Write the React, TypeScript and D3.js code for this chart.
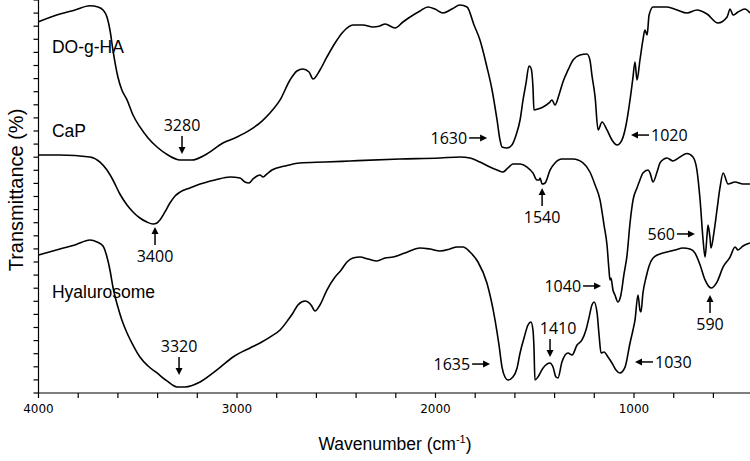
import React, { useEffect, useRef } from 'react';
import * as d3 from 'd3';

const width = 750;
const height = 461;

// DO-g-HA spectrum (wavenumber, transmittance offset)
const doWn = [4000, 3892, 3816, 3741, 3700, 3675, 3655, 3640, 3625, 3600, 3580, 3554, 3524, 3489, 3448, 3403, 3348, 3287, 3227, 3161, 3071, 3000, 2934, 2874, 2834, 2783, 2733, 2698, 2668, 2637, 2617, 2582, 2547, 2506, 2466, 2416, 2365, 2315, 2280, 2254, 2204, 2164, 2128, 2078, 2038, 2003, 1962, 1917, 1877, 1841, 1806, 1776, 1741, 1715, 1690, 1675, 1665, 1640, 1615, 1594, 1574, 1559, 1544, 1529, 1519, 1509, 1504, 1484, 1458, 1428, 1413, 1398, 1378, 1358, 1332, 1307, 1272, 1237, 1222, 1212, 1196, 1181, 1161, 1136, 1111, 1086, 1061, 1040, 1020, 1005, 995, 985, 970, 955, 945, 934, 924, 904, 834, 783, 733, 683, 632, 577, 531, 516, 501, 476, 441, 416];
const doT = [28.34, 28.93, 29.24, 29.56, 29.47, 29.24, 28.7, 27.71, 26.18, 24.12, 23.13, 22.37, 21.22, 20.31, 19.47, 18.78, 18.17, 17.79, 17.79, 18.17, 19.08, 19.54, 20.08, 20.76, 21.37, 22.37, 23.89, 24.58, 24.73, 24.5, 23.97, 24.66, 25.65, 26.72, 27.56, 28.09, 28.09, 27.94, 28.02, 28.17, 27.86, 28.32, 28.7, 29.16, 29.47, 29.31, 29.01, 29.31, 29.62, 29.47, 28.09, 26.95, 24.89, 23.13, 20.84, 19.31, 18.78, 18.7, 18.93, 19.69, 20.84, 22.37, 23.66, 24.96, 24.81, 23.36, 21.6, 21.68, 21.83, 22.14, 22.37, 21.98, 22.75, 23.74, 24.66, 25.42, 25.8, 25.88, 25.42, 24.27, 22.6, 20.08, 20.69, 20.08, 19.31, 18.93, 19.31, 20.46, 22.37, 24.12, 25.27, 23.89, 25.42, 26.95, 27.71, 27.33, 28.85, 29.47, 29.47, 29.24, 29.01, 29.24, 28.93, 28.24, 28.7, 29.31, 28.85, 29.08, 29.31, 29.01];

// CaP spectrum
const capWn = [4000, 3892, 3741, 3690, 3655, 3625, 3590, 3554, 3524, 3489, 3454, 3423, 3403, 3388, 3363, 3338, 3312, 3287, 3237, 3186, 3111, 3035, 2985, 2960, 2940, 2919, 2899, 2884, 2869, 2849, 2824, 2758, 2683, 2557, 2431, 2179, 1977, 1877, 1826, 1776, 1726, 1690, 1660, 1635, 1610, 1574, 1539, 1509, 1489, 1478, 1473, 1463, 1448, 1423, 1398, 1363, 1307, 1257, 1222, 1196, 1171, 1151, 1136, 1126, 1121, 1116, 1106, 1096, 1081, 1066, 1051, 1035, 1020, 1005, 985, 970, 955, 929, 919, 904, 884, 869, 849, 834, 803, 768, 733, 703, 683, 667, 652, 642, 632, 627, 617, 612, 597, 582, 567, 551, 526, 491, 451, 416];
const capT = [18.17, 18.17, 18.02, 17.63, 17.02, 16.26, 15.19, 14.35, 13.82, 13.36, 13.05, 12.9, 12.98, 13.21, 13.82, 14.5, 15.04, 15.34, 15.65, 15.95, 16.26, 16.49, 16.41, 16.11, 16.03, 16.34, 16.56, 16.64, 16.49, 16.72, 17.02, 17.33, 17.56, 17.63, 17.71, 17.86, 17.94, 18.02, 17.94, 17.63, 17.25, 17.02, 16.87, 17.18, 17.48, 17.48, 17.25, 16.79, 16.26, 16.26, 16.41, 15.95, 16.03, 17.02, 17.56, 17.86, 17.86, 17.56, 16.87, 15.88, 14.73, 12.82, 11.3, 9.39, 8.63, 8.78, 7.86, 7.48, 6.95, 7.48, 9.01, 10.53, 12.98, 14.73, 15.65, 16.26, 16.79, 17.02, 16.79, 16.11, 16.87, 17.56, 17.86, 17.94, 17.71, 18.02, 18.28, 18.02, 17.02, 14.73, 11.68, 10.38, 12.06, 12.82, 11.83, 11.07, 12.29, 13.97, 15.65, 16.79, 15.95, 16.11, 15.95, 15.95];

// Hyalurosome spectrum
const hyaWn = [4000, 3892, 3816, 3741, 3705, 3675, 3655, 3640, 3625, 3600, 3580, 3554, 3524, 3489, 3448, 3403, 3353, 3302, 3262, 3186, 3101, 3020, 2934, 2884, 2834, 2783, 2743, 2718, 2693, 2657, 2627, 2607, 2582, 2547, 2506, 2475, 2446, 2416, 2380, 2340, 2295, 2254, 2214, 2154, 2078, 2028, 1977, 1927, 1892, 1861, 1826, 1786, 1741, 1700, 1680, 1665, 1650, 1635, 1610, 1589, 1574, 1554, 1534, 1519, 1509, 1504, 1499, 1484, 1458, 1423, 1408, 1393, 1383, 1363, 1332, 1312, 1287, 1262, 1242, 1227, 1212, 1201, 1186, 1176, 1166, 1151, 1131, 1111, 1091, 1071, 1045, 1020, 1005, 995, 980, 970, 965, 955, 940, 924, 904, 869, 834, 793, 753, 718, 693, 667, 642, 612, 582, 551, 516, 491, 476, 451, 416];
const hyaT = [10.53, 10.99, 11.3, 11.68, 11.53, 11.22, 10.38, 9.39, 8.09, 6.56, 5.57, 4.58, 3.66, 2.75, 2.06, 1.53, 0.92, 0.46, 0.46, 0.84, 1.76, 2.75, 3.44, 3.82, 4.27, 4.81, 5.57, 6.11, 6.72, 7.02, 6.72, 6.26, 6.72, 7.86, 8.85, 9.39, 10.0, 10.31, 10.38, 10.23, 10.08, 10.31, 10.38, 10.69, 11.07, 10.99, 10.84, 10.99, 11.15, 11.15, 10.76, 10.0, 8.4, 5.57, 3.66, 1.98, 1.22, 0.99, 1.22, 1.91, 3.05, 4.2, 5.19, 5.42, 4.81, 3.51, 0.99, 1.22, 1.91, 2.29, 1.98, 1.22, 1.15, 2.37, 3.05, 2.9, 3.66, 4.05, 4.81, 5.73, 6.72, 6.95, 6.11, 4.43, 3.05, 3.13, 2.75, 2.29, 1.76, 1.53, 1.98, 3.82, 4.81, 5.57, 7.48, 6.34, 6.18, 7.63, 8.78, 9.69, 10.31, 10.61, 10.76, 10.92, 11.07, 10.99, 10.69, 9.77, 8.63, 8.02, 8.47, 9.62, 10.38, 11.15, 10.92, 11.22, 11.45];

const seriesNames = ['DO-g-HA', 'CaP', 'Hyalurosome'];
const nameWn = [3932, 3932, 3932];
const nameT = [25.95, 19.54, 7.25];

const xTickLabels = [4000, 3000, 2000, 1000];

// peak annotations: arrow tip at (wn, t)
const annoText = ['3280', '3400', '3320', '1630', '1020', '1540', '560', '1040', '590', '1410', '1635', '1030'];
const annoWn = [3277, 3413, 3292, 1740, 1015, 1463, 693, 1166, 617, 1423, 1725, 995];
const annoT = [18.24, 12.67, 1.37, 19.47, 19.69, 15.65, 12.14, 8.17, 7.48, 2.75, 2.21, 2.37];
const annoDir = ['down', 'up', 'down', 'right', 'left', 'up', 'right', 'right', 'up', 'down', 'right', 'left'];

export default function App() {
  const ref = useRef<SVGSVGElement>(null);

  useEffect(() => {
    const svg = d3.select(ref.current);
    svg.selectAll('*').remove();

    const x0 = 38.5;
    const y0 = 393;
    const x = d3.scaleLinear().domain([4000, 400]).range([x0, x0 + 3600 * 0.1985]);
    const y = d3.scaleLinear().domain([0, 30]).range([y0, 0]);

    svg.append('rect').attr('width', width).attr('height', height).attr('fill', '#fff');

    // axes
    const g = svg.append('g').attr('stroke', '#000').attr('stroke-width', 1.2);
    g.append('line').attr('x1', x0).attr('x2', width).attr('y1', y0).attr('y2', y0);
    g.append('line').attr('x1', x0).attr('x2', x0).attr('y1', 0).attr('y2', y0);
    g.selectAll('.xt')
      .data(d3.range(4000, 399, -200))
      .enter()
      .append('line')
      .attr('x1', (d) => x(d))
      .attr('x2', (d) => x(d))
      .attr('y1', y0)
      .attr('y2', y0 + 5);
    g.selectAll('.yt')
      .data(d3.range(0, 31))
      .enter()
      .append('line')
      .attr('x1', x0 - 5)
      .attr('x2', x0)
      .attr('y1', (d) => y(d))
      .attr('y2', (d) => y(d));

    svg.selectAll('.xl')
      .data(xTickLabels)
      .enter()
      .append('text')
      .attr('x', (d) => x(d))
      .attr('y', y0 + 20)
      .attr('text-anchor', 'middle')
      .style('font-family', 'DejaVu Sans')
      .style('font-size', '12px')
      .text((d) => d);

    const xl = svg.append('text')
      .attr('x', 395)
      .attr('y', 450)
      .attr('text-anchor', 'middle')
      .style('font-family', 'Liberation Sans, Arial')
      .style('font-size', '17.5px');
    xl.append('tspan').text('Wavenumber (cm');
    xl.append('tspan').attr('dy', -7).style('font-size', '11px').text('-1');
    xl.append('tspan').attr('dy', 7).text(')');

    svg.append('text')
      .attr('transform', 'translate(23,190) rotate(-90)')
      .attr('text-anchor', 'middle')
      .style('font-family', 'Liberation Sans, Arial')
      .style('font-size', '20px')
      .text('Transmittance (%)');

    // spectra
    const line = d3.line<[number, number]>()
      .x((d) => x(d[0]))
      .y((d) => y(d[1]))
      .curve(d3.curveMonotoneX);
    const series = [
      d3.zip(doWn, doT),
      d3.zip(capWn, capT),
      d3.zip(hyaWn, hyaT),
    ];
    svg.selectAll('.spec')
      .data(series)
      .enter()
      .append('path')
      .attr('d', (d) => line(d as [number, number][]))
      .attr('fill', 'none')
      .attr('stroke', '#000')
      .attr('stroke-width', 1.6)
      .attr('stroke-linejoin', 'round');

    svg.selectAll('.name')
      .data(seriesNames)
      .enter()
      .append('text')
      .attr('x', (d, i) => x(nameWn[i]))
      .attr('y', (d, i) => y(nameT[i]))
      .style('font-family', 'Liberation Sans, Arial')
      .style('font-size', '17.5px')
      .text((d) => d);

    // annotations
    const len = 18;
    const ag = svg.append('g');
    annoText.forEach((t, i) => {
      const tx = x(annoWn[i]);
      const ty = y(annoT[i]);
      const dir = annoDir[i];
      let tail: [number, number];
      let head: [number, number][];
      let lx = tx;
      let ly = ty;
      let anchor = 'middle';
      if (dir === 'down') {
        tail = [tx, ty - len];
        head = [[tx, ty], [tx - 3.5, ty - 7], [tx + 3.5, ty - 7]];
        ly = ty - len - 5;
        if (t === '1410') lx = tx + 8;
      } else if (dir === 'up') {
        tail = [tx, ty + len];
        head = [[tx, ty], [tx - 3.5, ty + 7], [tx + 3.5, ty + 7]];
        ly = ty + len + 17;
      } else if (dir === 'right') {
        tail = [tx - len, ty];
        head = [[tx, ty], [tx - 7, ty - 3.5], [tx - 7, ty + 3.5]];
        lx = tx - len - 2;
        ly = ty + 6;
        anchor = 'end';
      } else {
        tail = [tx + len, ty];
        head = [[tx, ty], [tx + 7, ty - 3.5], [tx + 7, ty + 3.5]];
        lx = tx + len + 2;
        ly = ty + 6;
        anchor = 'start';
      }
      ag.append('line')
        .attr('x1', tail[0])
        .attr('y1', tail[1])
        .attr('x2', (tail[0] + tx) / 2 + (tx - tail[0]) * 0.3)
        .attr('y2', (tail[1] + ty) / 2 + (ty - tail[1]) * 0.3)
        .attr('stroke', '#000')
        .attr('stroke-width', 1.5);
      ag.append('path')
        .attr('d', 'M' + head.map((p) => p.join(',')).join('L') + 'Z')
        .attr('fill', '#000');
      ag.append('text')
        .attr('x', lx)
        .attr('y', ly)
        .attr('text-anchor', anchor)
        .style('font-family', 'Open Sans')
        .style('font-size', '16px')
        .text(t);
    });
  }, []);

  return (
    <svg
      ref={ref}
      width={width}
      height={height}
      style={{ position: 'absolute', left: 0, top: 0, display: 'block' }}
    />
  );
}
